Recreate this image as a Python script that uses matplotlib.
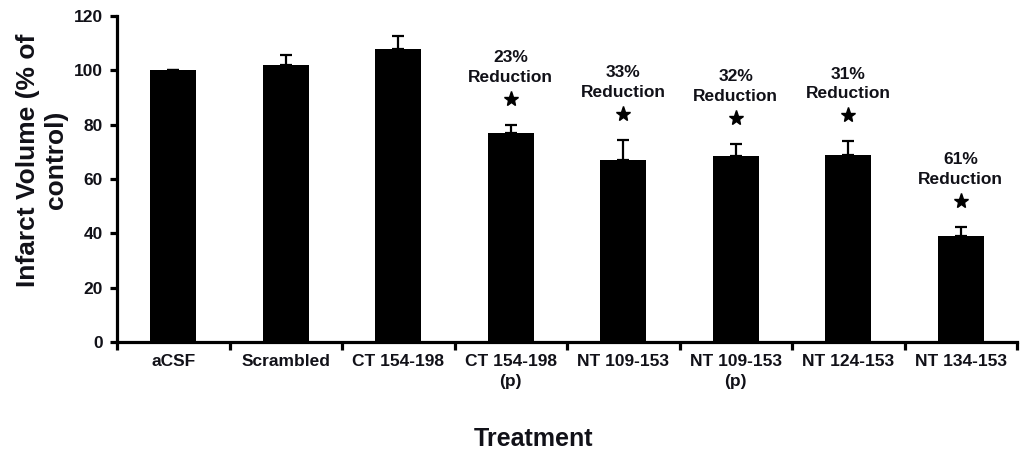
import matplotlib
matplotlib.use("Agg")
import matplotlib.pyplot as plt
import matplotlib.transforms as mtransforms
import numpy as np

# Treatment groups and infarct volume (% of control), mean and upper SEM
categories = ["aCSF", "Scrambled", "CT 154-198", "CT 154-198\n(p)", "NT 109-153",
              "NT 109-153\n(p)", "NT 124-153", "NT 134-153"]
values = [100, 102, 108, 77, 67, 68.5, 69, 39]
errors = [0, 3.5, 4.5, 3, 7.5, 4.5, 5, 3.5]
reductions = [None, None, None, "23%", "33%", "32%", "31%", "61%"]

plt.rcParams["font.family"] = ["Liberation Sans", "DejaVu Sans"]
plt.rcParams["font.weight"] = "bold"
TEXT = "#111118"

fig = plt.figure(figsize=(10.26, 4.57), dpi=100)
ax = fig.add_axes([117 / 1026, 1 - 342 / 457, 900 / 1026, 326 / 457])

x = np.arange(len(categories))
ax.bar(x, values, width=0.41, color="black", zorder=2)
ax.errorbar(x, values, yerr=[np.zeros(len(errors)), errors], fmt="none",
            ecolor="black", elinewidth=1.6, capsize=4.5, capthick=1.6, zorder=1)

ax.set_xlim(-0.5, len(categories) - 0.5)
ax.set_ylim(0, 120)
ax.set_yticks(np.arange(0, 121, 20))

for side in ("top", "right"):
    ax.spines[side].set_visible(False)
for side in ("left", "bottom"):
    ax.spines[side].set_linewidth(2.3)

ax.set_xticks(x)
ax.set_xticklabels(categories, fontsize=12.5, fontweight="bold", color=TEXT,
                   linespacing=1.35)
ax.set_xticks(np.arange(-0.5, len(categories), 1.0), minor=True)
ax.tick_params(axis="x", which="major", length=0, pad=9)
ax.tick_params(axis="x", which="minor", length=5.5, width=2.3, direction="out")
ax.tick_params(axis="y", length=5, width=2.3, direction="out", pad=5,
               labelsize=12.5, labelcolor=TEXT)
for lbl in ax.get_yticklabels():
    lbl.set_fontweight("bold")

# significance markers and percent reduction labels above the error bars
for i, (v, e, r) in enumerate(zip(values, errors, reductions)):
    if r is None:
        continue
    top = v + e
    star_tr = mtransforms.offset_copy(ax.transData, fig=fig, y=26, units="dots")
    ax.plot(i, top, marker="*", ms=11, color="black", mec="black",
            transform=star_tr, clip_on=False)
    ax.annotate(f"{r}\nReduction", xy=(i, top), xytext=(0, 40),
                textcoords="offset pixels", ha="center", va="bottom",
                fontsize=12.5, fontweight="bold", color=TEXT, linespacing=1.35,
                annotation_clip=False)

fig.text(42 / 1026, 1 - 160 / 457, "Infarct Volume (% of\ncontrol)",
         rotation=90, ha="center", va="center", fontsize=19,
         fontweight="bold", color=TEXT, linespacing=1.25)
fig.text(533 / 1026, 1 - 439 / 457, "Treatment", ha="center", va="center",
         fontsize=18, fontweight="bold", color=TEXT)

fig.savefig("out.png", dpi=100)
